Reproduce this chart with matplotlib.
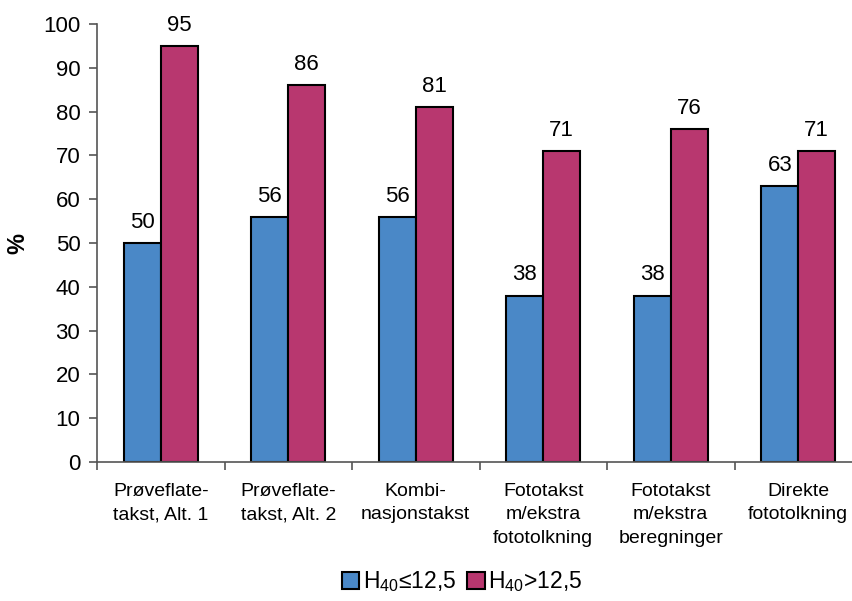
import numpy as np
from matplotlib import pyplot as plt

categories = ["Prøveflate-\ntakst, Alt. 1", "Prøveflate-\ntakst, Alt. 2", "Kombi-\nnasjonstakst",
              "Fototakst\nm/ekstra\nfototolkning", "Fototakst\nm/ekstra\nberegninger", "Direkte\nfototolkning"]
low = [50, 56, 56, 38, 38, 63]
high = [95, 86, 81, 71, 76, 71]
series_names = ["H$_{40}$≤12,5", "H$_{40}$>12,5"]

plt.rcParams['font.family'] = ['Liberation Sans', 'DejaVu Sans']
plt.rcParams['mathtext.fontset'] = 'custom'
plt.rcParams['mathtext.rm'] = 'Liberation Sans'
plt.rcParams['mathtext.it'] = 'Liberation Sans'

fig = plt.figure(figsize=(8.53, 6.01), dpi=100)
ax = fig.add_axes([97 / 853, 139 / 601, 765 / 853, 438 / 601])

x = np.arange(len(categories))
w = 0.29
ax.bar(x - w / 2, low, w, color='#4a88c7', edgecolor='black', linewidth=1.5, label=series_names[0])
ax.bar(x + w / 2, high, w, color='#b8376f', edgecolor='black', linewidth=1.5, label=series_names[1])

for i in range(len(categories)):
    ax.text(x[i] - w / 2, low[i] + 2.3, str(low[i]), ha='center', va='bottom', fontsize=16)
    ax.text(x[i] + w / 2, high[i] + 2.3, str(high[i]), ha='center', va='bottom', fontsize=16)

ax.set_xlim(-0.5, len(categories) - 0.5)
ax.set_ylim(0, 100)
ax.set_yticks(range(0, 101, 10))
ax.tick_params(axis='y', labelsize=16, length=6, color='#555555', width=1.2, pad=6)
ax.set_xticks(np.arange(len(categories) + 1) - 0.5)
ax.set_xticklabels([])
ax.set_xticks(x, minor=True)
ax.set_xticklabels(categories, minor=True, fontsize=14, linespacing=1.5)
ax.tick_params(axis='x', which='major', length=6, color='#555555', width=1.2)
ax.tick_params(axis='x', which='minor', length=0, pad=15)

for s in ['top', 'right']:
    ax.spines[s].set_visible(False)
for s in ['left', 'bottom']:
    ax.spines[s].set_color('#555555')
    ax.spines[s].set_linewidth(1.2)

fig.text(18 / 853, 1 - 243 / 601, '%', rotation=90, ha='center', va='center', fontsize=17, fontweight='bold')

fig.legend(loc='center', bbox_to_anchor=(462 / 853, 1 - 582 / 601), ncol=2, frameon=False,
           fontsize=16.5, handlelength=0.75, handleheight=0.75, handletextpad=0.15, columnspacing=0.5)

fig.savefig('out.png', dpi=100)
